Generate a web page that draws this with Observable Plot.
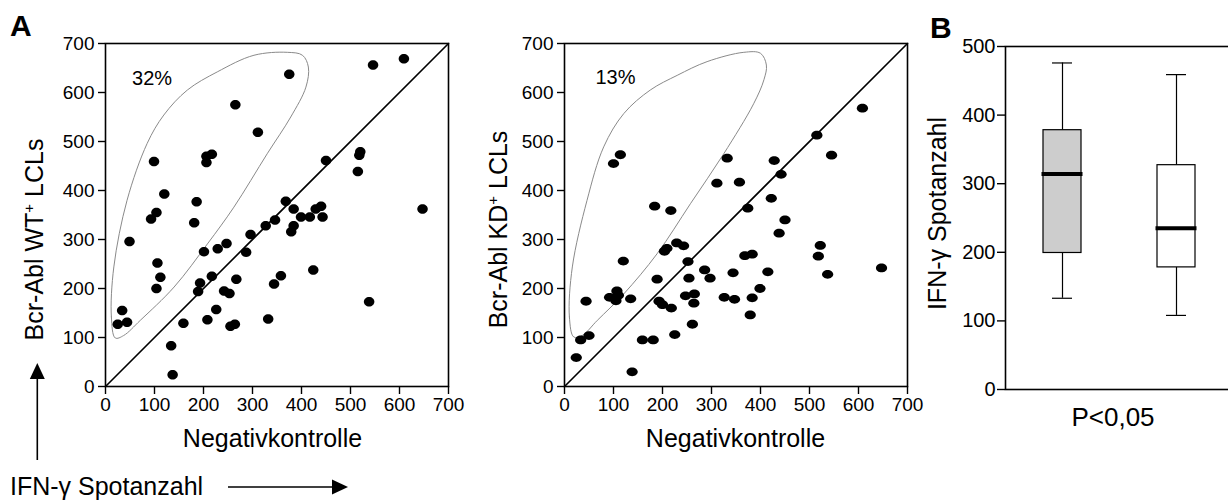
<!DOCTYPE html>
<html>
<head>
<meta charset="utf-8">
<script src="https://cdn.jsdelivr.net/npm/d3@7"></script>
<script src="https://cdn.jsdelivr.net/npm/@observablehq/plot@0.6"></script>
<style>
  html, body { margin: 0; padding: 0; background: #fff; overflow: hidden; }
  #page { position: relative; width: 1228px; height: 500px; overflow: hidden; font-family: "Liberation Sans", Arial, sans-serif; color: #000; }
  .abs { position: absolute; }
  .lbl { position: absolute; white-space: nowrap; line-height: 25px; height: 25px; font-size: 25px; text-align: center; }
  .rot { transform: rotate(-90deg); transform-origin: 50% 50%; }
  .sup { font-size: 15px; vertical-align: 9px; line-height: 0; }
</style>
</head>
<body>
<div id="page"></div>
<script>
// ---------- data ----------
const axisTicks = [0, 100, 200, 300, 400, 500, 600, 700];
const diagonal = [0, 700];

// Panel A left: Negativkontrolle (x) vs Bcr-Abl WT+ LCLs (y)
const wtNeg = [375,265,311,546,609,99,206,217,206,450,520,518,515,647,120,186,181,104,93,368,384,384,379,346,327,399,417,429,440,443,49,296,247,229,201,287,106,112,104,217,267,193,189,242,253,358,344,424,538,226,208,159,255,264,332,34,25,44,134,137];
const wtPos = [637,575,519,656,669,459,470,474,457,461,479,472,439,362,393,377,334,355,342,378,362,328,316,340,328,346,346,362,368,346,296,310,292,281,275,274,252,223,200,225,219,211,194,195,190,226,209,238,173,157,136,129,123,127,138,155,127,131,83,24];

// Panel A middle: Negativkontrolle (x) vs Bcr-Abl KD+ LCLs (y)
const kdNeg = [608,515,545,100,114,332,428,442,311,357,422,374,184,217,450,438,229,243,209,204,120,252,368,383,522,518,537,647,286,297,254,189,344,415,399,265,247,326,347,383,264,193,200,218,379,261,225,159,181,135,107,105,92,44,50,33,24,138,110];
const kdPos = [568,513,472,455,473,466,461,433,415,417,384,364,368,359,340,313,293,287,282,276,256,255,267,270,288,266,229,242,238,221,221,219,232,234,200,189,185,182,178,181,170,174,167,160,146,127,106,95,95,179,195,175,182,174,104,95,59,30,186];

// lasso outlines (gates) in data units [x, y]
const lassoWT = [[20,99],[12,142],[17,244],[44,380],[85,496],[119,554],[167,605],[228,642],[303,676],[371,682],[402,676],[414,652],[409,611],[378,550],[330,475],[262,366],[208,291],[140,203],[71,135],[37,104]];
const lassoKD = [[19,101],[10,142],[16,244],[46,380],[80,489],[121,557],[175,605],[230,635],[291,663],[366,682],[400,680],[412,656],[407,626],[386,577],[325,475],[257,373],[189,271],[121,189],[67,135],[36,104]];
const gateLabels = [{panel: "WT", x: 95, y: 628, text: "32%"}, {panel: "KD", x: 104, y: 630, text: "13%"}];

// Panel B boxplot summary (IFN-γ Spotanzahl)
const boxGroups = ["Bcr-Abl WT", "Bcr-Abl KD"];
const boxLow = [133, 108];
const boxQ1 = [199, 178];
const boxMedian = [314, 235];
const boxQ3 = [378, 327];
const boxHigh = [476, 459];
const boxTicks = [0, 100, 200, 300, 400, 500];

// ---------- helpers ----------
function ellipseSymbol(ax, ay) {
  const k = 0.5523;
  return {
    draw(ctx, size) {
      const r = Math.sqrt(size / Math.PI);
      const rx = r * ax, ry = r * ay;
      ctx.moveTo(rx, 0);
      ctx.bezierCurveTo(rx, k * ry, k * rx, ry, 0, ry);
      ctx.bezierCurveTo(-k * rx, ry, -rx, k * ry, -rx, 0);
      ctx.bezierCurveTo(-rx, -k * ry, -k * rx, -ry, 0, -ry);
      ctx.bezierCurveTo(k * rx, -ry, rx, -k * ry, rx, 0);
      ctx.closePath();
    }
  };
}
const svgStyle = {background: "none", overflow: "visible", maxWidth: "none", fontFamily: "'Liberation Sans', Arial, sans-serif", color: "#000"};
const page = document.getElementById("page");
function place(node, left, top) {
  const d = document.createElement("div");
  d.className = "abs";
  d.style.left = left + "px";
  d.style.top = top + "px";
  d.appendChild(node);
  page.appendChild(d);
}

function scatter(xs, ys, lasso, gate, symbol, opts) {
  const pts = xs.map((x, i) => ({x, y: ys[i]}));
  return Plot.plot({
    width: opts.width, height: 430,
    marginLeft: opts.marginLeft, marginRight: opts.marginRight, marginTop: 43, marginBottom: 44,
    style: svgStyle,
    x: {domain: [0, 700]},
    y: {domain: [0, 700]},
    marks: [
      Plot.line(lasso, {x: d => d[0], y: d => d[1], curve: "catmull-rom-closed", stroke: "#8a8a8a", strokeWidth: 1}),
      Plot.line(diagonal, {x: d => d, y: d => d, stroke: "#000", strokeWidth: 1.6}),
      Plot.dot(pts, {x: "x", y: "y", r: 5, symbol, fill: "#000", stroke: "none"}),
      Plot.text([gate], {x: "x", y: "y", text: "text", fontSize: 20, fill: "#000"}),
      Plot.frame({stroke: "#000", strokeWidth: 1.6}),
      Plot.axisX({ticks: axisTicks, tickSize: 8, tickPadding: 3, fontSize: 19, label: null, strokeWidth: 1.4}),
      Plot.axisY({ticks: axisTicks, tickSize: 7, tickPadding: 4, fontSize: 19, label: null, strokeWidth: 1.4})
    ]
  });
}

// ---------- panel A left ----------
place(scatter(wtNeg, wtPos, lassoWT, gateLabels[0], ellipseSymbol(1.05, 0.95), {width: 470, marginLeft: 105, marginRight: 22}), 0, 0);
// ---------- panel A middle ----------
place(scatter(kdNeg, kdPos, lassoKD, gateLabels[1], ellipseSymbol(1.12, 0.88), {width: 470, marginLeft: 74, marginRight: 53}), 490, 0);

// ---------- panel B ----------
const boxes = boxGroups.map((g, i) => ({g, lo: boxLow[i], q1: boxQ1[i], med: boxMedian[i], q3: boxQ3[i], hi: boxHigh[i]}));
const boxPlot = Plot.plot({
  width: 330, height: 440,
  marginLeft: 85, marginRight: 0, marginTop: 46, marginBottom: 51,
  style: svgStyle,
  x: {type: "band", domain: boxGroups, range: [123, 275.5], paddingInner: 0.671, paddingOuter: 0, axis: null},
  y: {domain: [0, 500]},
  color: {domain: boxGroups, range: ["#cdcdcd", "#ffffff"]},
  marks: [
    Plot.ruleX(boxes, {x: "g", y1: "lo", y2: "q1", stroke: "#000", strokeWidth: 1.2}),
    Plot.ruleX(boxes, {x: "g", y1: "q3", y2: "hi", stroke: "#000", strokeWidth: 1.2}),
    Plot.tickY(boxes, {x: "g", y: "lo", insetLeft: 9, insetRight: 9, stroke: "#000", strokeWidth: 1.2}),
    Plot.tickY(boxes, {x: "g", y: "hi", insetLeft: 9, insetRight: 9, stroke: "#000", strokeWidth: 1.2}),
    Plot.barY(boxes, {x: "g", y1: "q1", y2: "q3", fill: "g", stroke: "#000", strokeWidth: 1.2}),
    Plot.tickY(boxes, {x: "g", y: "med", insetLeft: -1.5, insetRight: -1.5, stroke: "#000", strokeWidth: 4}),
    Plot.frame({stroke: "#000", strokeWidth: 1.6}),
    Plot.axisY({ticks: boxTicks, tickSize: 8, tickPadding: 2, fontSize: 20, label: null, strokeWidth: 1.4})
  ]
});
place(boxPlot, 920, 0);

// ---------- text labels ----------
function label(html, left, top, width, extra) {
  const d = document.createElement("div");
  d.className = "lbl" + (extra ? " " + extra : "");
  d.style.left = left + "px";
  d.style.top = top + "px";
  d.style.width = width + "px";
  d.innerHTML = html;
  page.appendChild(d);
  return d;
}
const A = label("A", 10, 11, 30); A.style.fontSize = "30px"; A.style.fontWeight = "bold"; A.style.textAlign = "left"; A.style.lineHeight = "30px"; A.style.height = "30px";
const B = label("B", 930, 13, 30); B.style.fontSize = "30px"; B.style.fontWeight = "bold"; B.style.textAlign = "left"; B.style.lineHeight = "30px"; B.style.height = "30px";

label("Negativkontrolle", 272.5 - 150, 425.5, 300);
label("Negativkontrolle", 735.5 - 150, 425.5, 300);
const p = label("P&lt;0,05", 1113 - 100, 404.5, 200); p.style.fontSize = "26px";

// rotated y labels (centered at cx, cy)
label('Bcr-Abl WT<span class="sup">+</span> LCLs', 34 - 150, 239 - 12.5, 300, "rot");
label('Bcr-Abl KD<span class="sup">+</span> LCLs', 498 - 150, 229 - 12.5, 300, "rot");
label('IFN-&gamma; Spotanzahl', 937 - 150, 213 - 12.5, 300, "rot");

const ann = label('IFN-&gamma; Spotanzahl', 10, 473.5, 220); ann.style.textAlign = "left";

// arrows (annotation)
const ns = "http://www.w3.org/2000/svg";
const arr = document.createElementNS(ns, "svg");
arr.setAttribute("width", 1228); arr.setAttribute("height", 500);
arr.style.position = "absolute"; arr.style.left = "0"; arr.style.top = "0"; arr.style.pointerEvents = "none";
arr.innerHTML = '<line x1="37.3" y1="376" x2="37.3" y2="460" stroke="#000" stroke-width="1.6"/>' +
  '<path d="M37.3,363 L44.8,379 L29.8,379 Z" fill="#000"/>' +
  '<line x1="228" y1="487" x2="333" y2="487" stroke="#000" stroke-width="1.6"/>' +
  '<path d="M348,487 L332,479.5 L332,494.5 Z" fill="#000"/>';
page.appendChild(arr);
</script>
</body>
</html>
